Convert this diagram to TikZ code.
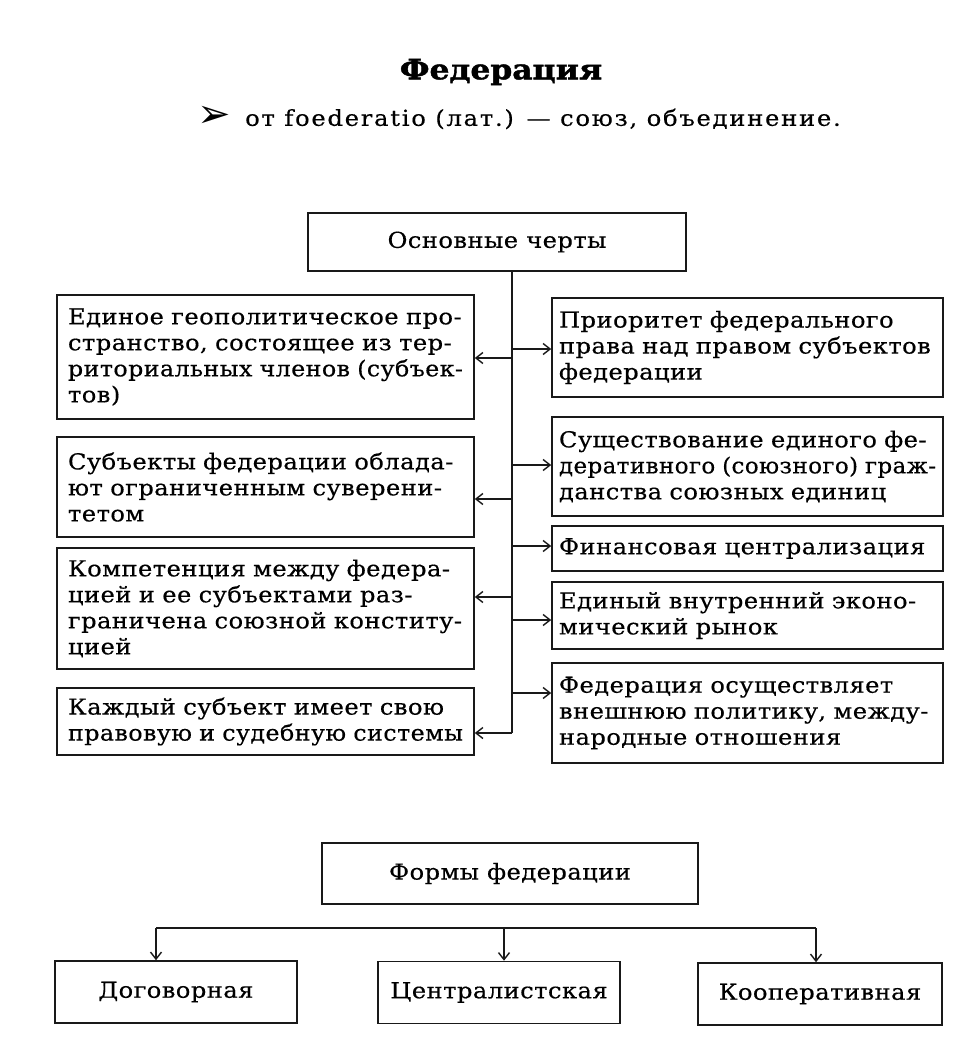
\documentclass[tikz,border=0pt]{standalone}
\usepackage{fontspec}
\usepackage{graphicx}
\setmainfont{DejaVu Serif}[FakeStretch=1.1,LetterSpace=2,FakeBold=0.4]
\newfontfamily\subfont{DejaVu Serif}[FakeStretch=1.1,LetterSpace=8,FakeBold=0.4]
\newfontfamily\titlefont{DejaVu Serif Bold}[FakeStretch=1.12,FakeBold=1.5]
\newfontfamily\symfont{DejaVu Sans}
\usetikzlibrary{arrows.meta}
\newcommand\jl[1]{\sbox0{#1}\ifdim\wd0>\linewidth\pgfmathsetmacro\jratio{\linewidth/\wd0}\scalebox{\jratio}[1]{#1}\else\makebox[\linewidth][s]{#1}\fi}
\begin{document}
\begin{tikzpicture}[x=1pt,y=-1pt,
  box/.style={draw=black!90, line width=1.6pt, inner sep=0pt, align=left,
    font=\fontsize{22}{26}\selectfont},
  lbox/.style={box, minimum width=417pt, text width=395pt},
  rbox/.style={box, minimum width=391pt, text width=377pt},
  cbox/.style={box, align=center},
  link/.style={line width=1.4pt, draw=black!90},
  arr/.style={link, -{Straight Barb[length=7pt,width=11pt,line width=1.4pt]}}]
\useasboundingbox (0,0) rectangle (972,1046);
\fill[white] (0,0) rectangle (972,1046);

% heading
\node (title) at (501,72) {\titlefont\fontsize{28}{32}\selectfont Федерация};
\node (bul) at (214,117) {\symfont\fontsize{40}{42}\selectfont ➢};
\node[anchor=west, inner sep=0pt] (sub) at (245,119) {\subfont\fontsize{22}{26}\selectfont от foederatio (лат.) — союз, объединение.};

% main box
\node[cbox, minimum width=378pt, minimum height=58pt] (main) at (497,242) {Основные черты};

% left column
\node[lbox, minimum height=124pt] (L1) at (265.5,357) {\jl{Единое геополитическое про-}\\\jl{странство, состоящее из тер-}\\\jl{риториальных членов (субъек-}\\тов)};
\node[lbox, minimum height=100pt] (L2) at (265.5,487) {\jl{Субъекты федерации облада-}\\\jl{ют ограниченным суверени-}\\тетом};
\node[lbox, minimum height=121pt] (L3) at (265.5,608.5) {\jl{Компетенция между федера-}\\\jl{цией и ее субъектами раз-}\\\jl{граничена союзной конститу-}\\цией};
\node[lbox, minimum height=67pt] (L4) at (265.5,721.5) {\jl{Каждый субъект имеет свою}\\\jl{правовую и судебную системы}};

% right column
\node[rbox, minimum height=99pt] (R1) at (747.5,347.5) {\jl{Приоритет федерального}\\\jl{права над правом субъектов}\\федерации};
\node[rbox, minimum height=99pt] (R2) at (747.5,466.5) {\jl{Существование единого фе-}\\\jl{деративного (союзного) граж-}\\данства союзных единиц};
\node[rbox, minimum height=45pt] (R3) at (747.5,548.5) {Финансовая централизация};
\node[rbox, minimum height=67pt] (R4) at (747.5,615.5) {\jl{Единый внутренний эконо-}\\мический рынок};
\node[rbox, minimum height=100pt] (R5) at (747.5,713) {\jl{Федерация осуществляет}\\\jl{внешнюю политику, между-}\\народные отношения};

% trunk and branches
\coordinate (tb) at (512,733);
\draw[link] (main.south -| tb) -- (tb);
\coordinate (jL1) at (512,358);
\coordinate (jL2) at (512,499);
\coordinate (jL3) at (512,597);
\coordinate (jR1) at (512,349);
\coordinate (jR2) at (512,465);
\coordinate (jR3) at (512,546);
\coordinate (jR4) at (512,620);
\coordinate (jR5) at (512,693);
\draw[arr] (tb) -- (L4.east |- tb);
\draw[arr] (jL1) -- (L1.east |- jL1);
\draw[arr] (jL2) -- (L2.east |- jL2);
\draw[arr] (jL3) -- (L3.east |- jL3);
\draw[arr] (jR1) -- (R1.west |- jR1);
\draw[arr] (jR2) -- (R2.west |- jR2);
\draw[arr] (jR3) -- (R3.west |- jR3);
\draw[arr] (jR4) -- (R4.west |- jR4);
\draw[arr] (jR5) -- (R5.west |- jR5);

% forms
\node[cbox, minimum width=376pt, minimum height=61pt] (forms) at (510,873.5) {Формы федерации};
\node[cbox, minimum width=242pt, minimum height=62pt] (B1) at (176,992) {Договорная};
\node[cbox, minimum width=242pt, minimum height=62pt] (B2) at (499,992.5) {Централистская};
\node[cbox, minimum width=244pt, minimum height=62pt] (B3) at (820,994) {Кооперативная};
\coordinate (hl) at (156,928);
\coordinate (hm) at (504,928);
\coordinate (hr) at (816,928);
\draw[link] (hl) -- (hr);
\draw[arr] (hl) -- (B1.north -| hl);
\draw[arr] (hm) -- (B2.north -| hm);
\draw[arr] (hr) -- (B3.north -| hr);
\end{tikzpicture}
\end{document}
